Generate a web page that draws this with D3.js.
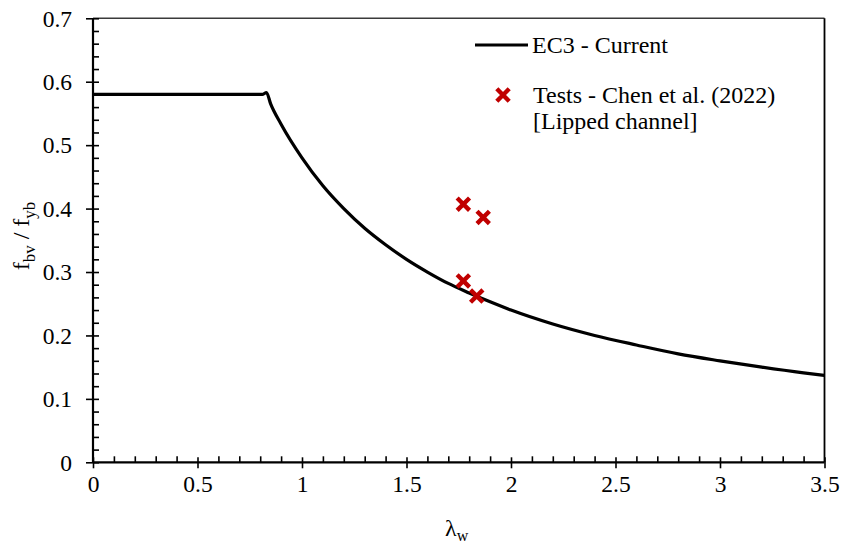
<!DOCTYPE html>
<html>
<head>
<meta charset="utf-8">
<script src="https://cdn.jsdelivr.net/npm/d3@7"></script>
<style>
  body { margin: 0; background: #fff; }
  svg text { font-family: "Liberation Serif", "Times New Roman", Tinos, "DejaVu Serif", serif !important; }
</style>
</head>
<body>
<svg id="chart" width="842" height="548"></svg>
<script>
// EC3 - Current design curve
const curveLambda = [0, 0.81, 0.83, 0.85, 0.9, 1.0, 1.1, 1.2, 1.3, 1.4, 1.5, 1.6, 1.7, 1.8, 1.9, 2.0, 2.2, 2.4, 2.6, 2.8, 3.0, 3.2, 3.4, 3.5];
const curveFbv    = [0.58, 0.58, 0.583, 0.565, 0.533, 0.48, 0.436, 0.40, 0.369, 0.343, 0.32, 0.30, 0.282, 0.267, 0.253, 0.24, 0.218, 0.20, 0.185, 0.171, 0.16, 0.15, 0.141, 0.137];
// Tests - Chen et al. (2022) [Lipped channel]
const testLambda = [1.772, 1.867, 1.772, 1.836];
const testFbv    = [0.407, 0.386, 0.286, 0.262];
// Ticks
const xTicks = [0, 0.5, 1, 1.5, 2, 2.5, 3, 3.5];
const xTickLabels = ["0", "0.5", "1", "1.5", "2", "2.5", "3", "3.5"];
const yTicks = [0, 0.1, 0.2, 0.3, 0.4, 0.5, 0.6, 0.7];
const yTickLabels = ["0", "0.1", "0.2", "0.3", "0.4", "0.5", "0.6", "0.7"];
const legendLabels = ["EC3 - Current", "Tests - Chen et al. (2022)", "[Lipped channel]"];

const svg = d3.select("#chart");
const L = 93, R = 824.5, T = 18.3, B = 462.3;
const x = d3.scaleLinear().domain([0, 3.5]).range([L, R]);
const y = d3.scaleLinear().domain([0, 0.7]).range([B, T]);
const red = "#C00000";
const fs = 23.5;

// top & right border
svg.append("line").attr("x1", L).attr("x2", R).attr("y1", T).attr("y2", T)
  .attr("stroke", "#3a3a3a").attr("stroke-width", 1.6);
svg.append("line").attr("x1", R).attr("x2", R).attr("y1", T).attr("y2", B)
  .attr("stroke", "#000").attr("stroke-width", 1.8);

// minor ticks (inside)
const xMinor = d3.range(0, 36).map(i => i / 10).filter(v => Math.abs(v * 2 - Math.round(v * 2)) > 1e-6);
const yMinor = d3.range(0, 36).map(i => i / 50).filter(v => Math.abs(v * 10 - Math.round(v * 10)) > 1e-6);
const gx = svg.append("g").attr("transform", `translate(0,${B})`)
  .call(d3.axisBottom(x).tickValues(xMinor).tickSize(-6).tickFormat(""));
const gy = svg.append("g").attr("transform", `translate(${L},0)`)
  .call(d3.axisLeft(y).tickValues(yMinor).tickSize(-6).tickFormat(""));
[gx, gy].forEach(g => {
  g.select(".domain").remove();
  g.selectAll("line").attr("stroke", "#000").attr("stroke-width", 1.6);
});

// major ticks crossing axis
const gxM = svg.append("g").attr("transform", `translate(0,${B})`)
  .call(d3.axisBottom(x).tickValues(xTicks).tickSize(6).tickPadding(7)
    .tickFormat((d, i) => xTickLabels[i]));
gxM.selectAll(".tick line").attr("y1", -5);
const gyM = svg.append("g").attr("transform", `translate(${L},0)`)
  .call(d3.axisLeft(y).tickValues(yTicks).tickSize(7).tickPadding(14)
    .tickFormat((d, i) => yTickLabels[i]));
gyM.selectAll(".tick line").attr("x1", 6);
[gxM, gyM].forEach(g => {
  g.attr("font-family", null);
  g.select(".domain").attr("stroke", "#000").attr("stroke-width", 2.2);
  g.selectAll(".tick line").attr("stroke", "#000").attr("stroke-width", 1.6);
  g.selectAll("text").attr("font-size", fs).attr("fill", "#000");
});
gxM.select(".domain").attr("d", `M${L},0H${R}`);
gyM.select(".domain").attr("d", `M0,${B}V${T}`);
gyM.selectAll("text").attr("dy", "0.33em");
gxM.selectAll("text").attr("dy", "0.71em");

// curve
const pts = curveLambda.map((l, i) => [l, curveFbv[i]]);
svg.append("path").datum(pts)
  .attr("d", d3.line().x(d => x(d[0])).y(d => y(d[1])).curve(d3.curveMonotoneX))
  .attr("fill", "none").attr("stroke", "#000").attr("stroke-width", 3.2)
  .attr("stroke-linejoin", "round");

// cross markers
function cross(g, cx, cy, s) {
  g.append("path")
    .attr("d", `M${cx - s},${cy - s}L${cx + s},${cy + s}M${cx - s},${cy + s}L${cx + s},${cy - s}`)
    .attr("stroke", red).attr("stroke-width", 4.4).attr("fill", "none");
}
const mg = svg.append("g");
testLambda.forEach((l, i) => cross(mg, x(l), y(testFbv[i]), 6.2));

// legend
const lfs = 24;
svg.append("line").attr("x1", 475).attr("x2", 528).attr("y1", 45).attr("y2", 45)
  .attr("stroke", "#000").attr("stroke-width", 3.2);
svg.append("text").attr("x", 532).attr("y", 53).attr("font-size", lfs).text(legendLabels[0]);
cross(svg, 503, 95, 6.2);
svg.append("text").attr("x", 533).attr("y", 103).attr("font-size", lfs).text(legendLabels[1]);
svg.append("text").attr("x", 533).attr("y", 129).attr("font-size", lfs).text(legendLabels[2]);

// axis titles
const xt = svg.append("text").attr("x", 445).attr("y", 536).attr("font-size", 24);
xt.append("tspan").text("λ");
xt.append("tspan").attr("font-size", 16).attr("dy", 5).text("w");

const yt = svg.append("text").attr("transform", "translate(29,236) rotate(-90)")
  .attr("text-anchor", "middle").attr("font-size", 24);
yt.append("tspan").text("f");
yt.append("tspan").attr("font-size", 17).attr("dy", 6).text("bv");
yt.append("tspan").attr("dy", -6).text(" / f");
yt.append("tspan").attr("font-size", 17).attr("dy", 6).text("yb");
</script>
</body>
</html>
